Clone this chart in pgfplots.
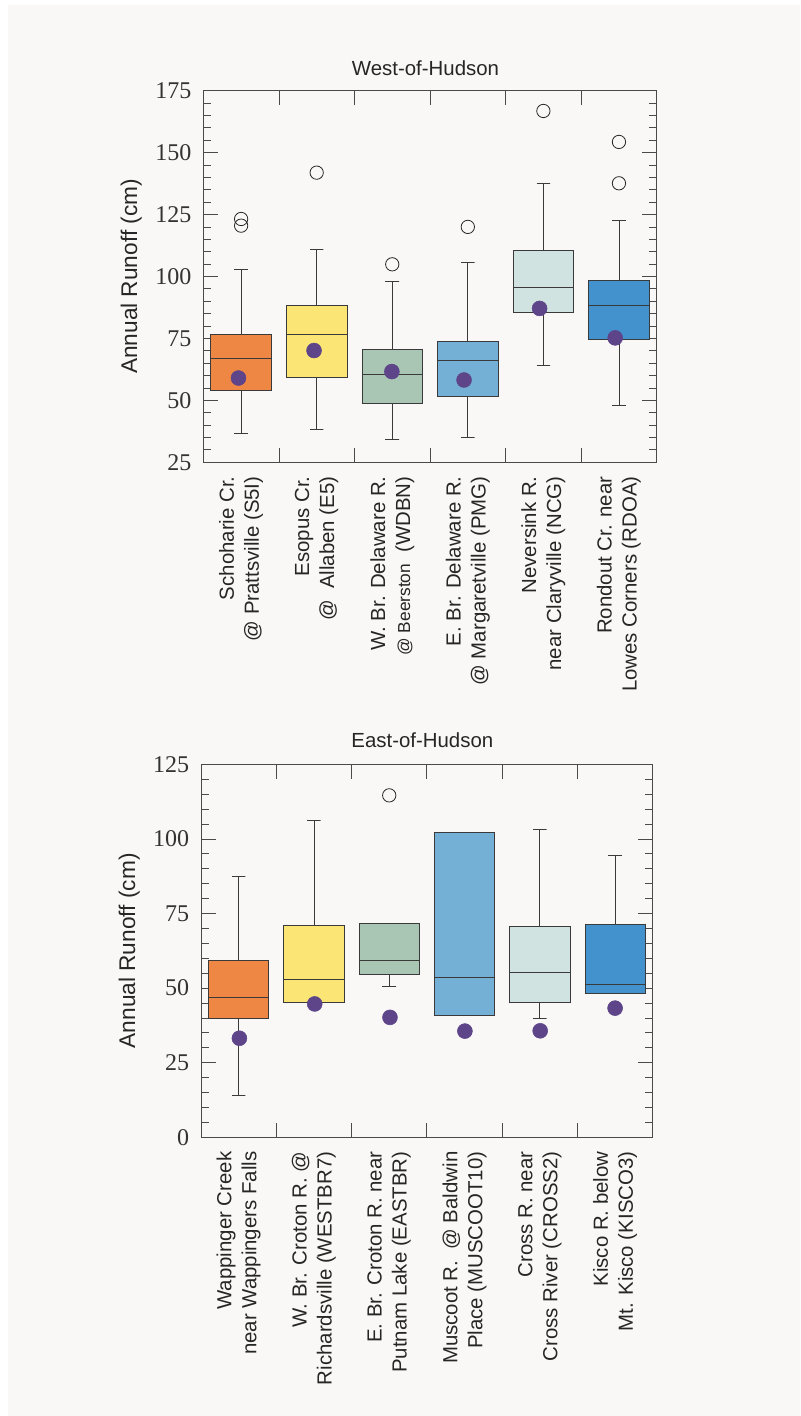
\documentclass[border=0pt]{standalone}
\usepackage{fontspec}
\setmainfont{Liberation Serif}
\setsansfont{Liberation Sans}
\usepackage{pgfplots}
\pgfplotsset{compat=1.18}
\definecolor{bg}{HTML}{F9F8F6}
\definecolor{axc}{HTML}{4A4A4A}
\definecolor{boxc}{HTML}{3A3A3A}
\definecolor{cA}{HTML}{EF8744}
\definecolor{cB}{HTML}{FBE574}
\definecolor{cC}{HTML}{A9C5B3}
\definecolor{cD}{HTML}{74B0D5}
\definecolor{cE}{HTML}{D0E3E1}
\definecolor{cF}{HTML}{4392CE}
\definecolor{dotc}{HTML}{5E4589}
% box at position #1: lower whisker #2, lower quartile #3, median #4, upper quartile #5, upper whisker #6, fill #7
\newcommand{\bx}[7]{%
\addplot[fill=#7, draw=boxc, line width=0.6pt, x filter/.expression={x+#1}] coordinates {(-0.4,#3) (0.4,#3) (0.4,#5) (-0.4,#5)} -- cycle;
\addplot[draw=boxc, line width=0.6pt, x filter/.expression={x+#1}] coordinates {(-0.4,#4) (0.4,#4)};
\addplot[draw=boxc, line width=0.6pt, x filter/.expression={x+#1}] coordinates {(-0.09,#6) (0.09,#6) (0,#6) (0,#5)};
\addplot[draw=boxc, line width=0.6pt, x filter/.expression={x+#1}] coordinates {(-0.09,#2) (0.09,#2) (0,#2) (0,#3)};
}
\pgfplotsset{
  myaxis/.style={
    scale only axis, anchor=south west,
    xmin=0, xmax=6,
    axis line style={draw=axc, line width=0.7pt},
    tick style={draw=axc, line width=0.6pt},
    major tick length=11pt, minor tick length=6pt,
    minor y tick num=4,
    xtick={1,2,3,4,5}, xticklabels={},
    y tick label style={font=\fontsize{18}{18}\selectfont, inner sep=0pt, xshift=-8.7pt, text=black!80},
    /pgf/number format/assume math mode=true,
    every axis y label/.style={at={(axis description cs:-0.159,0.5)}, rotate=90, anchor=center,
      font=\sffamily\fontsize{17}{20}\selectfont, text=black!85},
    ylabel={Annual Runoff (cm)},
    every axis title/.style={anchor=center, font=\sffamily\fontsize{15.3}{18}\selectfont, text=black!85},
    clip=false,
  },
  labaxis/.style={
    scale only axis, anchor=south west,
    xmin=0, xmax=6, ymin=0, ymax=1,
    axis y line=none, axis x line*=bottom, x axis line style={draw=none},
    xtick={0.5,1.5,2.5,3.5,4.5,5.5}, xtick style={draw=none},
    x tick label style={yshift=-10.5pt, rotate=90, anchor=east, align=right, inner sep=0pt,
      font=\sffamily\fontsize{15.3}{18.75}\selectfont, text=black!85},
  },
  outl/.style={only marks, mark=o, mark size=5pt, mark options={draw=black!85, line width=0.6pt, fill=none}},
  meanm/.style={only marks, mark=*, mark size=5.6pt, mark options={draw=dotc, fill=dotc}},
}
\begin{document}
\begin{tikzpicture}
\path[use as bounding box, fill=white] (0pt,0pt) rectangle (600pt,1062pt);
\fill[bg] (6pt,0pt) rectangle (600pt,1058.25pt);

\begin{axis}[myaxis, at={(152.5pt,715.3pt)}, width=340.05pt, height=278.7pt,
  ymin=25, ymax=175, ytick={25,50,...,175},
  title={West-of-Hudson}, title style={at={(axis description cs:0.49,1.061)}},
]
\bx{0.5}{36.8}{54.1}{66.8}{76.8}{102.8}{cA}
\bx{1.5}{38.3}{59.3}{76.7}{88.5}{111.0}{cB}
\bx{2.5}{34.3}{48.8}{60.6}{70.6}{97.9}{cC}
\bx{3.5}{35.1}{51.5}{66.2}{73.7}{105.7}{cD}
\bx{4.5}{64.0}{85.5}{95.5}{110.4}{137.6}{cE}
\bx{5.5}{48.1}{74.5}{88.2}{98.3}{122.7}{cF}
\addplot[outl] coordinates {(0.5,123.2) (0.5,120.5) (1.5,141.9) (2.5,104.9) (3.5,120.0) (4.5,166.8) (5.5,154.3) (5.5,137.6)};
\addplot[meanm] coordinates {(0.465,59.0) (1.465,70.1) (2.495,61.6) (3.45,58.2) (4.45,87.1) (5.45,75.2)};
\end{axis}
\begin{axis}[labaxis, at={(152.5pt,715.3pt)}, width=340.05pt, height=278.7pt,
  xticklabels={{Schoharie Cr.\\@ Prattsville (S5I)},{Esopus Cr.\\@\ \ Allaben (E5)},{W. Br. Delaware R.\\{\fontsize{13}{15}\selectfont @ Beerston}\ \ (WDBN)},{E. Br. Delaware R.\\@ Margaretville (PMG)},{Neversink R.\\near Claryville (NCG)},{Rondout Cr. near\\Lowes Corners (RDOA)}},
]
\end{axis}

\begin{axis}[myaxis, at={(150.75pt,209.0pt)}, width=338.8pt, height=279.75pt,
  ymin=0, ymax=125, ytick={0,25,...,125},
  title={East-of-Hudson}, title style={at={(axis description cs:0.49,1.065)}},
]
\bx{0.5}{14.2}{39.7}{46.9}{59.3}{87.5}{cA}
\bx{1.5}{45.1}{45.1}{52.8}{70.9}{106.1}{cB}
\bx{2.5}{50.5}{54.7}{59.3}{71.7}{71.7}{cC}
\bx{3.5}{41.0}{41.0}{53.5}{102.3}{102.3}{cD}
\bx{4.5}{39.8}{45.1}{55.4}{70.7}{103.1}{cE}
\bx{5.5}{48.3}{48.3}{51.2}{71.3}{94.4}{cF}
\addplot[outl] coordinates {(2.5,114.6)};
\addplot[meanm] coordinates {(0.51,33.2) (1.51,44.7) (2.51,40.2) (3.505,35.6) (4.505,35.7) (5.5,43.3)};
\end{axis}
\begin{axis}[labaxis, at={(150.75pt,209.0pt)}, width=338.8pt, height=279.75pt,
  xticklabels={{Wappinger Creek\\near Wappingers Falls},{W. Br. Croton R. @\\Richardsville (WESTBR7)},{E. Br. Croton R. near\\Putnam Lake (EASTBR)},{Muscoot R.\ \ @ Baldwin\\Place (MUSCOOT10)},{Cross R. near\\Cross River (CROSS2)},{Kisco R. below\\Mt. Kisco (KISCO3)}},
]
\end{axis}
\end{tikzpicture}
\end{document}
